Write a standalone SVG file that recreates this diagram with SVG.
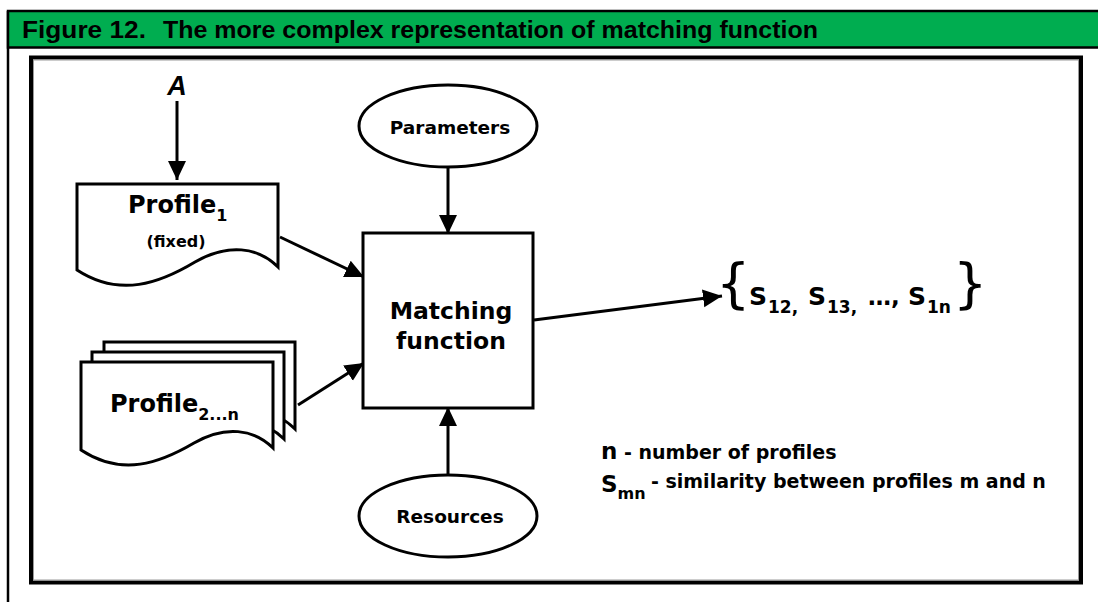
<svg xmlns="http://www.w3.org/2000/svg" width="1098" height="602" viewBox="0 0 1098 602">
  <style>
    .shape { fill: #ffffff; stroke: #000000; stroke-width: 3; stroke-linejoin: miter; }
    .conn { fill: none; stroke: #000000; stroke-width: 3; }
    .lbl { font-family: "DejaVu Sans", Verdana, sans-serif; font-weight: bold; fill: #000000; }
    .mid { text-anchor: middle; }
    .cap { font-family: "Liberation Sans", Arial, sans-serif; font-weight: bold; font-size: 24px; }
    .brace { font-family: "DejaVu Sans", sans-serif; font-size: 54px; }
  </style>
  <defs>
    <marker id="arrow" markerUnits="userSpaceOnUse" markerWidth="21" markerHeight="19" refX="19" refY="9" orient="auto">
      <path d="M0,0 L19,9 L0,18 Z" fill="#000000"/>
    </marker>
  </defs>

  <!-- page background -->
  <rect x="0" y="0" width="1098" height="602" fill="#ffffff"/>

  <!-- caption bar -->
  <g id="caption">
    <line x1="8" y1="11" x2="8" y2="602" stroke="#000000" stroke-width="2.5"/>
    <rect x="8" y="11" width="1095" height="36.5" fill="#00ad50" stroke="#000000" stroke-width="2.5"/>
    <text class="cap" x="22" y="38" textLength="124" lengthAdjust="spacingAndGlyphs">Figure 12.</text>
    <text class="cap" x="163" y="38" textLength="655" lengthAdjust="spacingAndGlyphs">The more complex representation of matching function</text>
  </g>

  <!-- diagram frame -->
  <g id="frame">
    <rect x="31" y="57.5" width="1050" height="525" fill="none" stroke="#000000" stroke-width="4"/>
    <rect x="33.5" y="60" width="1045" height="520" fill="none" stroke="#9a9a9a" stroke-width="1"/>
  </g>

  <!-- connectors -->
  <g id="connectors">
    <line class="conn" x1="177" y1="101" x2="177" y2="180" marker-end="url(#arrow)"/>
    <line class="conn" x1="448" y1="167" x2="448" y2="234" marker-end="url(#arrow)"/>
    <line class="conn" x1="448" y1="476" x2="448" y2="407" marker-end="url(#arrow)"/>
    <line class="conn" x1="280" y1="237" x2="364" y2="277" marker-end="url(#arrow)"/>
    <line class="conn" x1="298" y1="405" x2="364" y2="363" marker-end="url(#arrow)"/>
    <line class="conn" x1="534" y1="320" x2="722" y2="296" marker-end="url(#arrow)"/>
  </g>

  <!-- input A -->
  <g id="input-a">
    <text x="177" y="95" class="mid" font-family="Liberation Sans, Arial, sans-serif" font-weight="bold" font-style="italic" font-size="27">A</text>
  </g>

  <!-- fixed profile document -->
  <g id="profile-1">
    <path class="shape" d="M77,184 H278 V267 C258,247 228,243 195,262 C160,283 120,298 77,270 Z"/>
    <text class="lbl" font-size="24" x="128" y="213">Profile<tspan font-size="16" dy="8">1</tspan></text>
    <text class="lbl mid" font-size="16" x="176" y="247">(fixed)</text>
  </g>

  <!-- stacked profile documents -->
  <g id="profiles-2-n">
    <path class="shape" d="M104,342 H295 V429 C276,410 247,406 216,424 C182,444 144,458 104,431 Z"/>
    <path class="shape" d="M92,352 H284 V439 C265,420 236,416 205,434 C171,454 133,468 92,441 Z"/>
    <path class="shape" d="M81,362 H273 V448 C254,429 225,425 194,443 C160,463 122,477 81,450 Z"/>
    <text class="lbl" font-size="24" x="110" y="412">Profile<tspan font-size="16" dy="8">2...n</tspan></text>
  </g>

  <!-- parameters -->
  <g id="parameters">
    <ellipse class="shape" cx="448" cy="126" rx="89" ry="41"/>
    <text class="lbl mid" font-size="18.5" x="450" y="134">Parameters</text>
  </g>

  <!-- matching function -->
  <g id="matching-function">
    <rect class="shape" x="363" y="233" width="170" height="175"/>
    <text class="lbl mid" font-size="23.5" x="451" y="319">Matching</text>
    <text class="lbl mid" font-size="23.5" x="451" y="349">function</text>
  </g>

  <!-- resources -->
  <g id="resources">
    <ellipse class="shape" cx="448" cy="516" rx="89" ry="41"/>
    <text class="lbl mid" font-size="18.5" x="450" y="523">Resources</text>
  </g>

  <!-- similarity set -->
  <g id="similarity-set">
    <text class="brace" x="716" y="302">{</text>
    <text class="brace" x="953" y="302">}</text>
    <text class="lbl" font-size="25">
      <tspan x="749" y="305">S</tspan><tspan x="768" y="313" font-size="17">12,</tspan>
      <tspan x="808" y="305">S</tspan><tspan x="827" y="313" font-size="17">13,</tspan>
      <tspan x="868" y="305" font-size="23">…,</tspan>
      <tspan x="908" y="305">S</tspan><tspan x="927" y="313" font-size="17">1n</tspan>
    </text>
  </g>

  <!-- legend -->
  <g id="legend">
    <text class="lbl" x="601" y="459"><tspan font-size="23">n</tspan><tspan font-size="19"> - number of profiles</tspan></text>
    <text class="lbl" x="601" y="492"><tspan font-size="23">S</tspan><tspan font-size="16" dy="7">mn</tspan></text>
    <text class="lbl" font-size="19" x="651" y="488">- similarity between profiles m and n</text>
  </g>
</svg>
